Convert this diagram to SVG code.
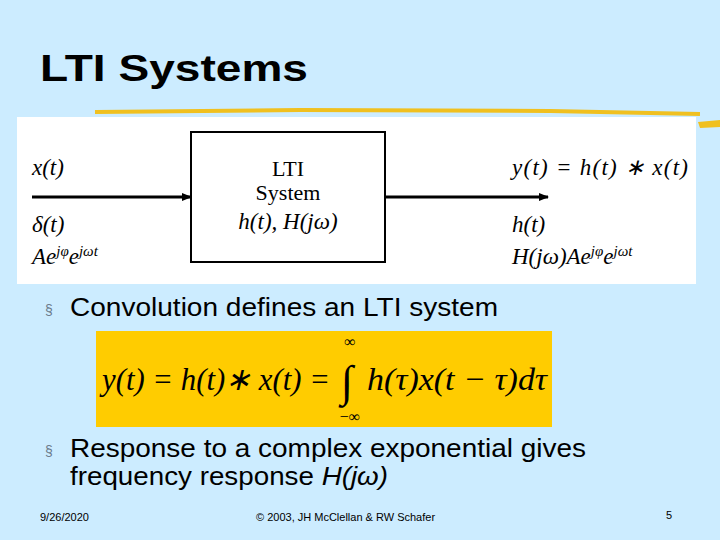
<svg xmlns="http://www.w3.org/2000/svg" width="720" height="540" viewBox="0 0 720 540">
<defs>
<style>
.m{font-family:"Liberation Serif",serif;font-style:italic;font-size:23px;fill:#000}
.r{font-family:"Liberation Serif",serif;font-size:22px;fill:#000}
.b{font-family:"Liberation Sans",sans-serif;font-size:26px;fill:#000}
.e{font-family:"Liberation Serif",serif;font-style:italic;font-size:32px;fill:#000}
.s{font-family:"Liberation Sans",sans-serif;font-size:11px;fill:#000}
</style>
<marker id="ah" markerWidth="10" markerHeight="8" refX="9" refY="4" orient="auto" markerUnits="userSpaceOnUse"><path d="M0,0L10,4L0,8z" fill="#000"/></marker>
</defs>
<rect width="720" height="540" fill="#CCECFF"/>
<text x="40" y="81" font-family="Liberation Sans,sans-serif" font-weight="bold" font-size="36" fill="#000" textLength="268" lengthAdjust="spacingAndGlyphs">LTI Systems</text>
<path d="M95,112 L300,110 L550,111 L700,114" stroke="#F0C020" stroke-width="4" fill="none"/>
<path d="M698,122 L720,120 L720,127 L700,128z" fill="#F0C020"/>
<rect x="17" y="117" width="679" height="167" fill="#fff"/>
<g id="connectors">
<line x1="32" y1="197" x2="191" y2="197" stroke="#000" stroke-width="3" marker-end="url(#ah)"/>
<line x1="385" y1="197" x2="548" y2="197" stroke="#000" stroke-width="3" marker-end="url(#ah)"/>
</g>
<g id="system">
<rect x="191" y="132" width="194" height="130" fill="#fff" stroke="#000" stroke-width="2"/>
<text x="288" y="176" class="r" text-anchor="middle">LTI</text>
<text x="288" y="200" class="r" text-anchor="middle">System</text>
<text x="288" y="229" class="m" text-anchor="middle">h(t), H(jω)</text>
</g>
<g id="inputs">
<text x="32" y="175" class="m">x(t)</text>
<text x="32" y="232" class="m">δ(t)</text>
<text x="32" y="264" class="m">Ae<tspan dy="-8" font-size="15">jφ</tspan><tspan dy="8">e</tspan><tspan dy="-8" font-size="15">jωt</tspan></text>
</g>
<g id="outputs">
<text x="512" y="175" class="m" textLength="176" lengthAdjust="spacing">y(t) = h(t) ∗ x(t)</text>
<text x="512" y="232" class="m">h(t)</text>
<text x="512" y="264" class="m">H(jω)Ae<tspan dy="-8" font-size="15">jφ</tspan><tspan dy="8">e</tspan><tspan dy="-8" font-size="15">jωt</tspan></text>
</g>
<text x="45" y="315" font-family="Liberation Sans,sans-serif" font-size="14" fill="#6A7A8A">§</text>
<text x="70" y="316" class="b" textLength="428" lengthAdjust="spacingAndGlyphs">Convolution defines an LTI system</text>
<rect x="96" y="331" width="456" height="96" fill="#FFCC00"/>
<text x="102" y="390" class="e" textLength="228" lengthAdjust="spacingAndGlyphs">y(t) = h(t)∗ x(t) =</text>
<text x="341" y="396" font-family="Liberation Serif,serif" font-size="44" fill="#000">∫</text>
<text x="350" y="347" font-family="Liberation Serif,serif" font-size="16" text-anchor="middle">∞</text>
<text x="350" y="422" font-family="Liberation Serif,serif" font-size="16" text-anchor="middle">−∞</text>
<text x="367" y="390" class="e" textLength="180" lengthAdjust="spacingAndGlyphs">h(τ)x(t − τ)dτ</text>
<text x="45" y="456" font-family="Liberation Sans,sans-serif" font-size="14" fill="#6A7A8A">§</text>
<text x="70" y="457" class="b" textLength="516" lengthAdjust="spacingAndGlyphs">Response to a complex exponential gives</text>
<text x="70" y="485" class="b" textLength="318" lengthAdjust="spacingAndGlyphs">frequency response <tspan font-style="italic">H(jω)</tspan></text>
<text x="40" y="521" class="s">9/26/2020</text>
<text x="256" y="521" class="s" font-size="10">© 2003, JH McClellan &amp; RW Schafer</text>
<text x="666" y="519" class="s">5</text>
</svg>
